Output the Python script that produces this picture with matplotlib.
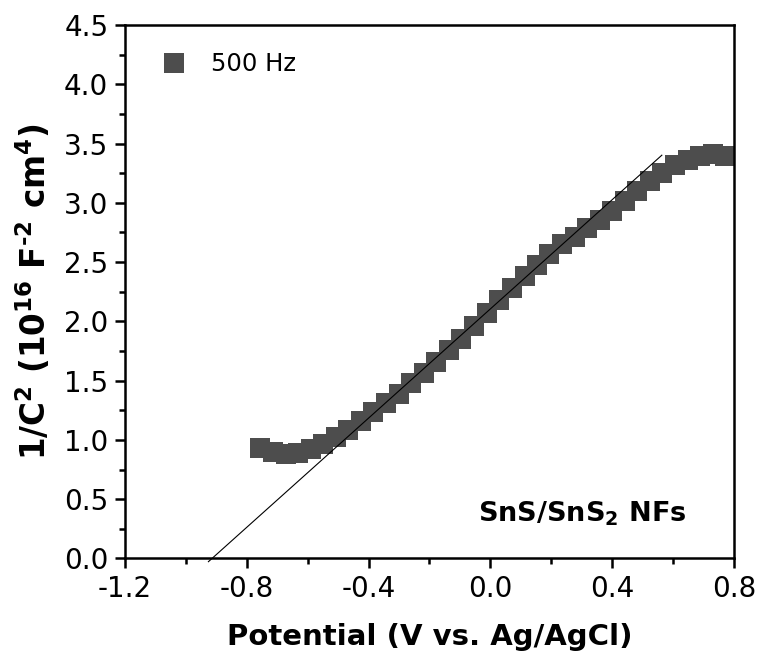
import matplotlib
matplotlib.use("Agg")
import matplotlib.pyplot as plt
from matplotlib.ticker import MultipleLocator

plt.rcParams['font.family'] = ['DejaVu Sans']
plt.rcParams['mathtext.fontset'] = 'custom'
plt.rcParams['mathtext.default'] = 'regular'

# Data
potential = [-0.755, -0.714, -0.672, -0.631, -0.590, -0.549, -0.507, -0.466,
             -0.425, -0.384, -0.342, -0.301, -0.260, -0.218, -0.177, -0.136,
             -0.095, -0.053, -0.012, 0.029, 0.070, 0.112, 0.153, 0.194,
             0.235, 0.277, 0.318, 0.359, 0.400, 0.442, 0.483, 0.524,
             0.565, 0.607, 0.648, 0.689, 0.730, 0.772]
inv_c2 = [0.931, 0.901, 0.881, 0.886, 0.921, 0.966, 1.027, 1.087,
          1.157, 1.238, 1.308, 1.389, 1.479, 1.565, 1.655, 1.756,
          1.854, 1.964, 2.073, 2.184, 2.284, 2.385, 2.479, 2.572,
          2.653, 2.715, 2.787, 2.858, 2.929, 3.012, 3.097, 3.181,
          3.255, 3.322, 3.364, 3.396, 3.411, 3.391]
fit_x = [-0.926, 0.563]
fit_y = [-0.027, 3.402]

xticks = [-1.2, -0.8, -0.4, 0.0, 0.4, 0.8]
yticks = [0.0, 0.5, 1.0, 1.5, 2.0, 2.5, 3.0, 3.5, 4.0, 4.5]

fig = plt.figure(figsize=(7.63, 6.69), dpi=100)
ax = fig.add_axes([0.1638, 0.1652, 0.7982, 0.7974])

ax.plot(potential, inv_c2, linestyle='none', marker='s', markersize=13.8,
        color='#4d4d4d', markeredgewidth=0, label='500 Hz', clip_on=False, zorder=2)
ax.plot(fit_x, fit_y, color='black', linewidth=0.8, clip_on=False, zorder=3)

ax.set_xlim(-1.2, 0.8)
ax.set_ylim(0, 4.5)
ax.set_xticks(xticks)
ax.set_xticklabels([f"{t:.1f}" for t in xticks])
ax.set_yticks(yticks)
ax.set_yticklabels([f"{t:.1f}" for t in yticks])
ax.xaxis.set_minor_locator(MultipleLocator(0.2))
ax.yaxis.set_minor_locator(MultipleLocator(0.25))

for s in ax.spines.values():
    s.set_linewidth(1.8)
ax.tick_params(which='major', direction='out', length=7, width=1.8, labelsize=20, pad=5)
ax.tick_params(which='minor', direction='out', length=4, width=1.8)

ax.set_xlabel('Potential (V vs. Ag/AgCl)', fontsize=21, fontweight='bold', labelpad=14)
ax.set_ylabel('1/C$^{2}$ (10$^{16}$ F$^{\u20102}$ cm$^{4}$)', fontsize=23.5, fontweight='bold', labelpad=8)

ax.legend(loc='upper left', bbox_to_anchor=(0.02, 0.99), frameon=False, fontsize=17.5,
          handletextpad=0.95, markerscale=1.0, handlelength=1.2)

ax.text(0.751, 0.07, 'SnS/SnS$_{2}$ NFs', transform=ax.transAxes, ha='center',
        va='baseline', fontsize=19.5, fontweight='bold')

fig.savefig('out.png', dpi=100)
